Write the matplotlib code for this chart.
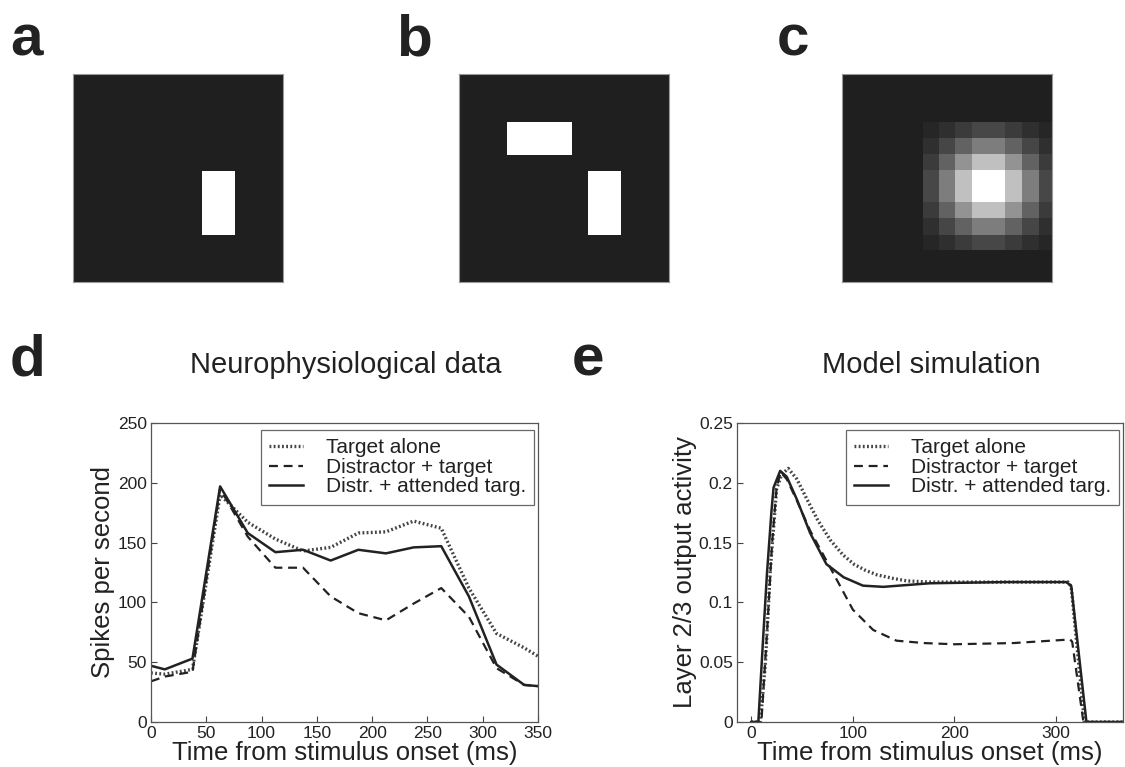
import numpy as np
import matplotlib
matplotlib.use('Agg')
import matplotlib.pyplot as plt
from matplotlib.patches import Rectangle
from matplotlib.ticker import FuncFormatter

plt.rcParams['font.family'] = ['Liberation Sans', 'DejaVu Sans']

# stimulus pictures a-c, in pixel units of the 210 x 208 field (y downwards)
field_w, field_h = 210, 208
target_rect = (129, 97, 33, 64)
distractor_rect = (48, 48, 65, 33)
field_grey = 0.12
# c: blocky blurred response, profile per block along x and y
blob_x_edges = [81, 97, 113, 130, 146, 163, 180, 197, 210]
blob_y_edges = [48, 64, 80, 96, 112, 128, 144, 161, 176]
blob_profile = [0.18, 0.42, 0.72, 1.0, 1.0, 0.72, 0.42, 0.18]

# d: neurophysiological data (spikes/s)
t_d = [0, 12.5, 37.5, 62.5, 87.5, 112.5, 137.5, 162.5, 187.5, 212.5,
       237.5, 262.5, 287.5, 312.5, 337.5, 350]
d_target = [41, 40, 44, 190, 167, 153, 143, 146, 158, 159, 168, 162, 112, 74, 62, 55]
d_distr = [34, 38, 42, 195, 155, 129, 129, 105, 91, 85, 99, 112, 88, 45, 31, 30]
d_attend = [47, 44, 53, 197, 158, 142, 144, 135, 144, 141, 146, 147, 105, 48, 31, 30]

# e: model simulation (layer 2/3 output)
t_e_target = [0, 9, 14, 19, 25, 30, 36.5, 45, 55, 66, 78, 90, 101, 112, 124,
              140, 153, 176, 250, 312, 315, 328, 366]
e_target = [0, 0, 0.05, 0.13, 0.195, 0.207, 0.212, 0.203, 0.186, 0.168, 0.152,
            0.14, 0.132, 0.127, 0.123, 0.12, 0.118, 0.117, 0.117, 0.117, 0.113, 0, 0]
t_e_distr = [0, 10, 15.5, 20.5, 25, 29, 35, 45, 58, 74, 88, 100, 120, 143,
             170, 200, 258, 314, 316, 327, 366]
e_distr = [0, 0, 0.074, 0.149, 0.196, 0.209, 0.203, 0.185, 0.16, 0.135, 0.113,
           0.094, 0.077, 0.068, 0.066, 0.065, 0.066, 0.069, 0.067, 0, 0]
t_e_attend = [0, 7, 12, 15.5, 20, 22, 28.5, 35, 45, 58, 74, 91, 110, 130,
              176, 250, 310, 315, 330, 366]
e_attend = [0, 0, 0.074, 0.124, 0.177, 0.196, 0.21, 0.205, 0.186, 0.158, 0.132,
            0.121, 0.114, 0.113, 0.116, 0.117, 0.117, 0.114, 0, 0]

labels = ['Target alone', 'Distractor + target', 'Distr. + attended targ.']

W, H = 1125, 767
fig = plt.figure(figsize=(W / 100, H / 100), dpi=100)
txt = '#222222'

def fbox(x0, y0, x1, y1):
    # pixel box (top-left origin) -> figure fraction rect
    return [x0 / W, 1 - y1 / H, (x1 - x0) / W, (y1 - y0) / H]

# --- stimulus pictures ---
def field(x0, rects, blob=False):
    ax = fig.add_axes(fbox(x0, 74, x0 + 210, 282))
    ax.set_xlim(0, field_w)
    ax.set_ylim(field_h, 0)
    ax.set_facecolor(str(field_grey))
    if blob:
        p = np.array(blob_profile)
        vals = field_grey + (1 - field_grey) * np.outer(p, p)
        ax.pcolormesh(blob_x_edges, blob_y_edges, vals, cmap='gray', vmin=0, vmax=1)
    for r in rects:
        ax.add_patch(Rectangle((r[0], r[1]), r[2], r[3], color='white', lw=0))
    ax.set_xticks([])
    ax.set_yticks([])
    for s in ax.spines.values():
        s.set_color('#999999')
        s.set_linewidth(0.8)

field(73, [target_rect])
field(459, [distractor_rect, target_rect])
field(842, [], blob=True)

for lab, x in [('a', 10), ('b', 396), ('c', 777)]:
    fig.text(x / W, 1 - 55 / H, lab, fontsize=42, fontweight='bold', color=txt,
             ha='left', va='baseline')

# --- line panels ---
styles = [dict(color='#444444', lw=2.4, ls=(0, (0.55, 0.7))),
          dict(color='#222222', lw=1.6, ls=(0, (4, 2.6))),
          dict(color='#222222', lw=1.8, ls='-')]

def style_axes(ax):
    ax.tick_params(direction='in', length=4, width=0.8, labelsize=12.5,
                   colors='#444444', labelcolor=txt, pad=3)
    for s in ax.spines.values():
        s.set_color('#555555')
        s.set_linewidth(0.9)
    leg = ax.legend(loc='upper right', bbox_to_anchor=(0.99, 0.977),
                    borderaxespad=0, fontsize=15, frameon=True, fancybox=False,
                    handlelength=1.6, handletextpad=1.1, labelspacing=0.03,
                    borderpad=0.4)
    leg.get_frame().set_edgecolor('#444444')
    leg.get_frame().set_linewidth(0.9)
    for t in leg.get_texts():
        t.set_color(txt)

axd = fig.add_axes(fbox(151, 423, 538, 722))
for y, lab, st in zip([d_target, d_distr, d_attend], labels, styles):
    axd.plot(t_d, y, label=lab, **st)
axd.set_xlim(0, 350)
axd.set_ylim(0, 250)
axd.set_xticks(range(0, 351, 50))
axd.set_yticks(range(0, 251, 50))
axd.set_xlabel('Time from stimulus onset (ms)', fontsize=18.5, color=txt, labelpad=0)
axd.set_ylabel('Spikes per second', fontsize=18.5, color=txt, labelpad=2)
style_axes(axd)

axe = fig.add_axes(fbox(737, 423, 1123, 722))
for (t, y), lab, st in zip([(t_e_target, e_target), (t_e_distr, e_distr),
                            (t_e_attend, e_attend)], labels, styles):
    axe.plot(t, y, label=lab, **st)
axe.set_xlim(-14, 366)
axe.set_ylim(0, 0.25)
axe.set_xticks([0, 100, 200, 300])
axe.set_yticks([0, 0.05, 0.1, 0.15, 0.2, 0.25])
axe.yaxis.set_major_formatter(FuncFormatter(lambda v, p: '%g' % round(v, 2)))
axe.set_xlabel('Time from stimulus onset (ms)', fontsize=18.5, color=txt, labelpad=0)
axe.set_ylabel('Layer 2/3 output activity', fontsize=18.5, color=txt, labelpad=1)
style_axes(axe)

fig.text(10 / W, 1 - 376 / H, 'd', fontsize=42, fontweight='bold', color=txt, va='baseline')
fig.text(572 / W, 1 - 376 / H, 'e', fontsize=42, fontweight='bold', color=txt, va='baseline')
fig.text(346 / W, 1 - 373 / H, 'Neurophysiological data', fontsize=21, color=txt,
         ha='center', va='baseline')
fig.text(931 / W, 1 - 373 / H, 'Model simulation', fontsize=21, color=txt,
         ha='center', va='baseline')

fig.savefig('out.png', dpi=100, facecolor='white')
